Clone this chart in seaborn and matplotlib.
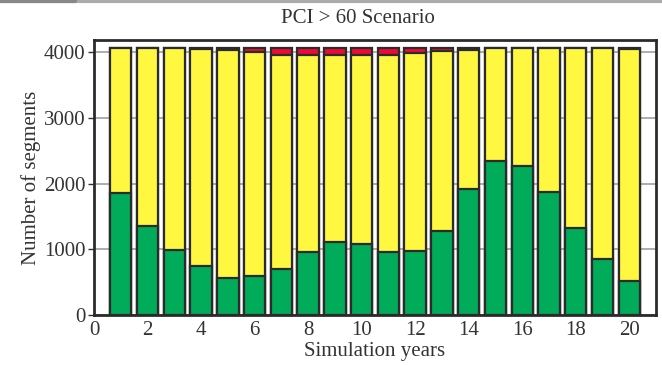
import matplotlib
matplotlib.use("Agg")
import matplotlib.pyplot as plt
from matplotlib.lines import Line2D
import numpy as np
import pandas as pd
import seaborn as sns

# Segment counts per simulation year, split by condition class
years = list(range(1, 21))
good = [1857, 1354, 983, 739, 567, 598, 694, 963, 1116, 1075,
        953, 979, 1283, 1924, 2340, 2264, 1872, 1323, 857, 515]
poor = [0, 0, 0, 12, 30, 55, 110, 110, 110, 110,
        105, 75, 50, 30, 0, 0, 0, 0, 0, 15]
total = [4062] * 20
fair = [t - g - p for t, g, p in zip(total, good, poor)]

x_ticks = list(range(0, 21, 2))
y_ticks = [0, 1000, 2000, 3000, 4000]

df = pd.DataFrame({"year": years, "good": good, "fair": fair, "poor": poor})
df["top_fair"] = df["good"] + df["fair"]
df["top_poor"] = df["top_fair"] + df["poor"]

sns.set_style("white")
plt.rcParams["font.family"] = ["Liberation Serif", "DejaVu Serif"]

fig = plt.figure(figsize=(6.62, 3.65), dpi=100)
ax = fig.add_axes([0.142, 0.137, 0.849, 0.753])

edge = dict(edgecolor="#2b2b2b", linewidth=1.6)
layers = [("top_poor", "#ee0a34"), ("top_fair", "#fff740"), ("good", "#00ab59")]
for col, color in layers:
    sns.barplot(data=df, x="year", y=col, native_scale=True, width=0.8,
                color=color, saturation=1, ax=ax, zorder=3, **edge)

ax.set_xlim(0, 21)
ax.set_ylim(0, 4184)
ax.set_xticks(x_ticks)
ax.set_yticks(y_ticks)
ax.yaxis.grid(True, color="#a0a0a0", linewidth=1.2, zorder=0)
ax.set_axisbelow(True)
for s in ax.spines.values():
    s.set_color("#2b2b2b")
    s.set_linewidth(2.0)
ax.tick_params(axis="x", length=0, labelsize=15, pad=4, colors="#333333")
ax.tick_params(axis="y", length=4, width=1, left=True, labelsize=15, pad=2, colors="#333333")
ax.set_xlabel("Simulation years", fontsize=15, color="#333333", labelpad=2)
ax.set_ylabel("Number of segments", fontsize=15, color="#333333", labelpad=2)

fig.text(0.541, 0.950, "PCI > 60 Scenario", ha="center", va="center",
         fontsize=15, color="#333333")
fig.add_artist(Line2D([0, 1], [0.996, 0.996], color="#aaaaaa", linewidth=3,
                      transform=fig.transFigure))
fig.add_artist(Line2D([0, 0.113], [0.996, 0.996], color="#888888", linewidth=3,
                      transform=fig.transFigure))

fig.savefig("out.png", dpi=100)
